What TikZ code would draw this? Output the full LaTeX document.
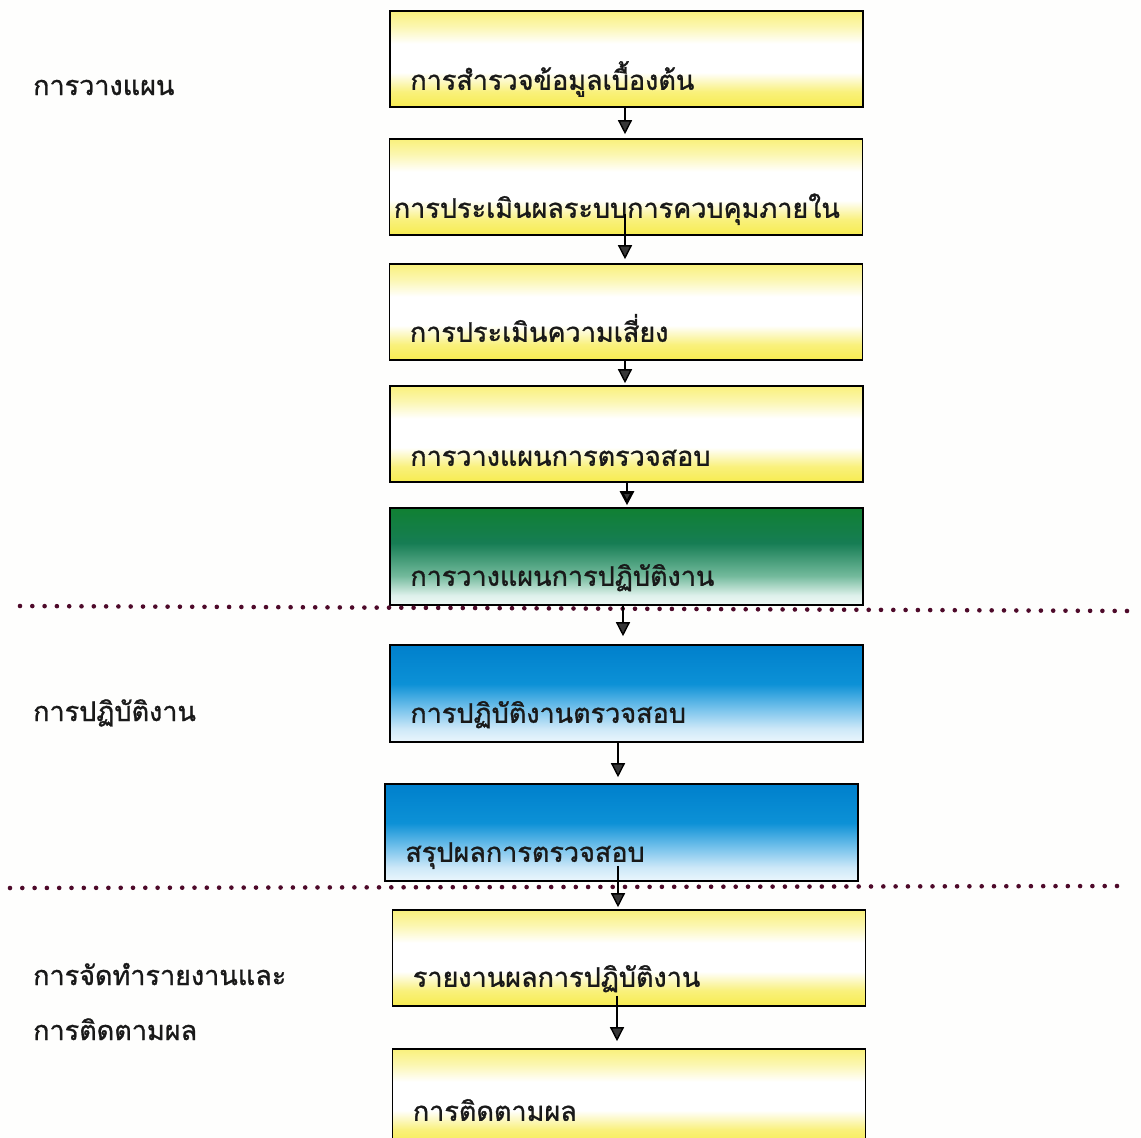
\documentclass[tikz,border=0pt]{standalone}
\usepackage{fontspec}
\newfontfamily\thai[Script=Thai,FakeBold=1.1]{Loma}
\usetikzlibrary{arrows.meta,calc}

\definecolor{paper}{RGB}{254,254,253}
\definecolor{yel}{RGB}{247,236,80}
\definecolor{grnA}{RGB}{16,128,50}
\definecolor{grnB}{RGB}{22,125,84}
\definecolor{grnC}{RGB}{115,186,156}
\definecolor{grnD}{RGB}{222,241,235}
\definecolor{bluA}{RGB}{0,128,204}
\definecolor{bluB}{RGB}{12,145,214}
\definecolor{bluC}{RGB}{120,195,236}
\definecolor{bluD}{RGB}{205,232,248}
\definecolor{dotc}{RGB}{78,10,42}
\definecolor{tipc}{RGB}{55,55,55}

% vertical shadings (box bottom at 25bp, box top at 75bp)
\pgfdeclareverticalshading{yelshade}{100bp}{%
  color(0bp)=(yel); color(25bp)=(yel); color(33bp)=(yel!75!white);
  color(43bp)=(white); color(58bp)=(white); color(67bp)=(yel!45!white);
  color(75bp)=(yel!75!white); color(100bp)=(yel!75!white)}
\pgfdeclareverticalshading{grnshade}{100bp}{%
  color(0bp)=(grnD!50!white); color(25bp)=(grnD!50!white); color(30bp)=(grnD);
  color(40bp)=(grnC); color(57bp)=(grnB); color(75bp)=(grnA);
  color(100bp)=(grnA)}
\pgfdeclareverticalshading{blushade}{100bp}{%
  color(0bp)=(bluD!40!white); color(25bp)=(bluD!40!white); color(32bp)=(bluD);
  color(42bp)=(bluC); color(55bp)=(bluB); color(75bp)=(bluA);
  color(100bp)=(bluA)}

\tikzset{
  box/.style={draw=black, line width=1.6pt, minimum width=473pt,
    minimum height=96pt, inner sep=0pt},
  ybox/.style={box, shading=yelshade},
  gbox/.style={box, shading=grnshade},
  bbox/.style={box, shading=blushade},
  boxtext/.style={anchor=base west, inner sep=0pt, text=black!90,
    font=\thai\fontsize{27}{30}\selectfont},
  sidetext/.style={anchor=base west, inner sep=0pt, text=black!90,
    font=\thai\fontsize{27}{30}\selectfont},
  arr/.style={draw=black, line width=1.4pt,
    -{Triangle[length=14pt,width=14pt,fill=tipc]}},
  dotline/.style={draw=dotc, line width=4.6pt, line cap=round,
    dash pattern=on 0pt off 12.3pt}
}

\begin{document}
\begin{tikzpicture}[x=1pt,y=1pt]
\useasboundingbox (0,0) rectangle (1141,-1138);
\clip (0,0) rectangle (1141,-1138);
\fill[paper] (0,0) rectangle (1141,-1138);

% process boxes
\node[ybox] (b1) at (626.5,-59) {};
\node[ybox] (b2) at (626,-187) {};
\node[ybox] (b3) at (626,-312) {};
\node[ybox] (b4) at (626.5,-434) {};
\node[gbox, minimum height=97pt] (b5) at (626.5,-556.5) {};
\node[bbox, minimum height=97pt] (b6) at (626.5,-693.5) {};
\node[bbox, minimum height=97pt] (b7) at (621.5,-832.5) {};
\node[ybox] (b8) at (629,-958) {};
\node[ybox] (b9) at (629,-1097) {};

% box captions
\node[boxtext] (t1) at ($(b1.south west)+(21,18)$) {การสำรวจข้อมูลเบื้องต้น};
\node[boxtext] (t2) at ($(b2.south west)+(5,18)$) {การประเมินผลระบบการควบคุมภายใน};
\node[boxtext] (t3) at ($(b3.south west)+(21,19)$) {การประเมินความเสี่ยง};
\node[boxtext] (t4) at ($(b4.south west)+(21,17)$) {การวางแผนการตรวจสอบ};
\node[boxtext] (t5) at ($(b5.south west)+(21,20)$) {การวางแผนการปฏิบัติงาน};
\node[boxtext] (t6) at ($(b6.south west)+(21,20)$) {การปฏิบัติงานตรวจสอบ};
\node[boxtext] (t7) at ($(b7.south west)+(21,20)$) {สรุปผลการตรวจสอบ};
\node[boxtext] (t8) at ($(b8.south west)+(21,20)$) {รายงานผลการปฏิบัติงาน};
\node[boxtext] (t9) at ($(b9.south west)+(21,25)$) {การติดตามผล};

% phase labels
\node[sidetext] (p1) at (33,-95) {การวางแผน};
\node[sidetext] (p2) at (33,-721) {การปฏิบัติงาน};
\node[sidetext] (p3a) at (33,-985) {การจัดทำรายงานและ};
\node[sidetext] (p3b) at (33,-1040) {การติดตามผล};

% phase separators
\coordinate (s1a) at (20,-606);
\coordinate (s1b) at (1135,-611);
\coordinate (s2a) at (10,-888);
\coordinate (s2b) at (1125,-886);
\draw[dotline] (s1a) -- (s1b);
\draw[dotline] (s2a) -- (s2b);

% flow arrows
\draw[arr] ([xshift=-1.5pt]b1.south) -- ([xshift=-1pt,yshift=4pt]b2.north);
\draw[arr] ([xshift=-1pt,yshift=22pt]b2.south) -- ([xshift=-1pt,yshift=4pt]b3.north);
\draw[arr] ([xshift=-1pt]b3.south) -- ([xshift=-1.5pt,yshift=2pt]b4.north);
\draw[arr, line width=2.6pt] ([xshift=0.5pt]b4.south) -- ([xshift=0.5pt,yshift=2pt]b5.north);
\draw[arr] ([xshift=-3.5pt]b5.south) -- ([xshift=-3.5pt,yshift=8pt]b6.north);
\draw[arr] ([xshift=-8.5pt]b6.south) -- ([xshift=-3.5pt,yshift=6pt]b7.north);
\draw[arr] ([xshift=-3.5pt,yshift=16pt]b7.south) -- ([xshift=-11pt,yshift=2pt]b8.north);
\draw[arr] ([xshift=-12pt,yshift=11pt]b8.south) -- ([xshift=-12pt,yshift=7pt]b9.north);
\end{tikzpicture}
\end{document}
